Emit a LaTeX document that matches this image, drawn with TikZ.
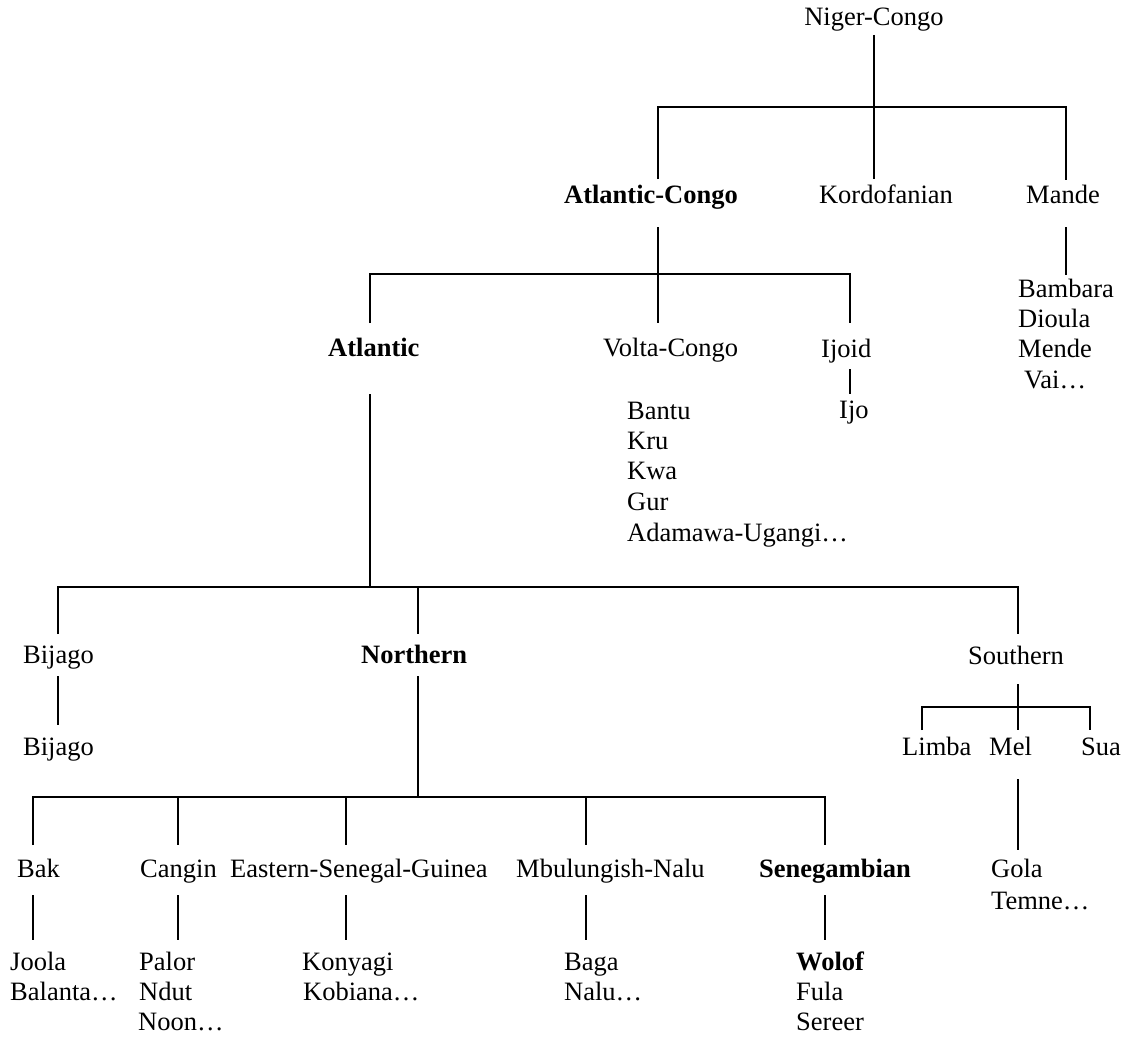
\documentclass[tikz,border=0pt]{standalone}
\usepackage{fontspec}
\setmainfont{Liberation Serif}
\begin{document}
\begin{tikzpicture}[x=1pt,y=-1pt,
  lbl/.style={inner sep=0pt, anchor=base west, font=\fontsize{26.5}{30}\selectfont},
  lblc/.style={lbl, anchor=base},
  bld/.style={font=\fontsize{26.5}{30}\selectfont\bfseries},
  link/.style={line width=2.4pt},
  thinlink/.style={line width=1.7pt}]
\useasboundingbox (0,0) rectangle (1127,1038);

% ---- labels ----
\node[lblc] (nc) at (874,26) {Niger-Congo};
\node[lblc,bld] (ac) at (651,203) {Atlantic-Congo};
\node[lblc] (ko) at (886,203) {Kordofanian};
\node[lblc] (ma) at (1063,203) {Mande};

\node[lbl] (bam) at (1018,297) {Bambara};
\node[lbl] (dio) at (1018,327) {Dioula};
\node[lbl] (men) at (1018,357) {Mende};
\node[lbl] (vai) at (1024,388) {Vai…};

\node[lbl,bld] (at) at (328,356) {Atlantic};
\node[lbl] (vc) at (603,356) {Volta-Congo};
\node[lbl] (ij) at (821,357) {Ijoid};
\node[lbl] (ijo) at (839,418) {Ijo};

\node[lbl] (ban) at (627,419) {Bantu};
\node[lbl] (kru) at (627,449) {Kru};
\node[lbl] (kwa) at (627,479) {Kwa};
\node[lbl] (gur) at (627,510) {Gur};
\node[lbl] (ada) at (627,541) {Adamawa-Ugangi…};

\node[lbl] (bi) at (23,663) {Bijago};
\node[lbl,bld] (no) at (361,663) {Northern};
\node[lbl] (so) at (968,664) {Southern};

\node[lbl] (bi2) at (23,755) {Bijago};
\node[lbl] (li) at (902,755) {Limba};
\node[lbl] (me) at (989,755) {Mel};
\node[lbl] (su) at (1081,755) {Sua};

\node[lbl] (bak) at (17,877) {Bak};
\node[lbl] (ca) at (140,877) {Cangin};
\node[lbl] (esg) at (230,877) {Eastern-Senegal-Guinea};
\node[lbl] (mn) at (516,877) {Mbulungish-Nalu};
\node[lbl,bld] (sg) at (759,877) {Senegambian};

\node[lbl] (go) at (991,877) {Gola};
\node[lbl] (te) at (991,909) {Temne…};

\node[lbl] (jo) at (10,970) {Joola};
\node[lbl] (bal) at (10,1000) {Balanta…};
\node[lbl] (pa) at (139,970) {Palor};
\node[lbl] (nd) at (139,1000) {Ndut};
\node[lbl] (noo) at (138,1030) {Noon…};
\node[lbl] (kon) at (302,970) {Konyagi};
\node[lbl] (kob) at (303,1000) {Kobiana…};
\node[lbl] (bag) at (564,970) {Baga};
\node[lbl] (nal) at (564,1000) {Nalu…};
\node[lbl,bld] (wo) at (796,970) {Wolof};
\node[lbl] (fu) at (796,1000) {Fula};
\node[lbl] (se) at (796,1030) {Sereer};

% ---- connector points ----
\coordinate (nc-out) at (874,35);
\coordinate (nc-j) at (874,107);
\coordinate (ac-in) at (658,179);
\coordinate (ko-in) at (874,179);
\coordinate (ma-in) at (1066,180);

\coordinate (ac-out) at (658,227);
\coordinate (ac-j) at (658,274);
\coordinate (at-in) at (370,323);
\coordinate (vc-in) at (658,323);
\coordinate (ij-in) at (850,323);

\coordinate (ma-out) at (1066,227);
\coordinate (bam-in) at (1066,275);

\coordinate (ij-out) at (850,369);
\coordinate (ijo-in) at (850,394);

\coordinate (at-out) at (370,394);
\coordinate (at-j) at (370,587);
\coordinate (bi-in) at (58,634);
\coordinate (no-top) at (418,587);
\coordinate (no-in) at (418,634);
\coordinate (so-in) at (1018,634);

\coordinate (bi-out) at (58,676);
\coordinate (bi2-in) at (58,725);

\coordinate (so-out) at (1018,684);
\coordinate (so-j) at (1018,707);
\coordinate (li-in) at (922,730);
\coordinate (me-in) at (1018,730);
\coordinate (su-in) at (1090,730);
\coordinate (me-out) at (1018,779);
\coordinate (go-in) at (1018,850);

\coordinate (no-out) at (418,676);
\coordinate (no-j) at (418,797);
\coordinate (bak-in) at (33,845);
\coordinate (ca-top) at (178,797);
\coordinate (ca-in) at (178,845);
\coordinate (esg-top) at (346,797);
\coordinate (esg-in) at (346,845);
\coordinate (mn-top) at (586,797);
\coordinate (mn-in) at (586,845);
\coordinate (sg-in) at (825,845);

\coordinate (bak-out) at (33,895);
\coordinate (jo-in) at (33,940);
\coordinate (ca-out) at (178,895);
\coordinate (pa-in) at (178,940);
\coordinate (esg-out) at (346,895);
\coordinate (kon-in) at (346,940);
\coordinate (mn-out) at (586,895);
\coordinate (bag-in) at (586,940);
\coordinate (sg-out) at (825,895);
\coordinate (wo-in) at (825,940);

% ---- connectors ----
\draw[link] (nc-out) -- (nc-j);
\draw[link] (ac-in) |- (nc-j) -| (ma-in);
\draw[link] (nc-j) -- (ko-in);

\draw[link] (ac-out) -- (ac-j);
\draw[link] (at-in) |- (ac-j) -| (ij-in);
\draw[link] (ac-j) -- (vc-in);

\draw[link] (ma-out) -- (bam-in);
\draw[link] (ij-out) -- (ijo-in);

\draw[link] (at-out) -- (at-j);
\draw[link] (bi-in) |- (at-j) -| (so-in);
\draw[link] (no-top) -- (no-in);

\draw[link] (bi-out) -- (bi2-in);

\draw[link] (so-out) -- (so-j);
\draw[link] (li-in) |- (so-j) -| (su-in);
\draw[link] (so-j) -- (me-in);
\draw[link] (me-out) -- (go-in);

\draw[link] (no-out) -- (no-j);
\draw[thinlink] (bak-in) |- (no-j) -| (sg-in);
\draw[thinlink] (ca-top) -- (ca-in);
\draw[thinlink] (esg-top) -- (esg-in);
\draw[thinlink] (mn-top) -- (mn-in);

\draw[thinlink] (bak-out) -- (jo-in);
\draw[thinlink] (ca-out) -- (pa-in);
\draw[thinlink] (esg-out) -- (kon-in);
\draw[thinlink] (mn-out) -- (bag-in);
\draw[thinlink] (sg-out) -- (wo-in);
\end{tikzpicture}
\end{document}
